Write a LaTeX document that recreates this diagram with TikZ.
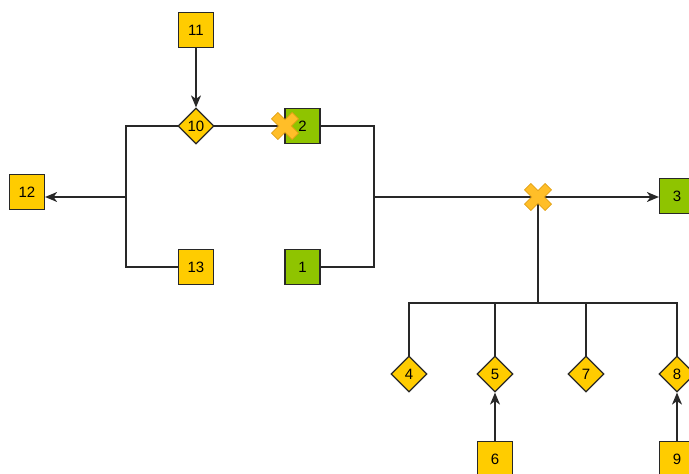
\documentclass[tikz,border=0pt]{standalone}
\usepackage{fontspec}
\setmainfont{Liberation Sans}
\usetikzlibrary{shapes.geometric,arrows.meta}
\definecolor{nodeyellow}{HTML}{FFCC00}
\definecolor{nodegreen}{RGB}{143,196,0}
\definecolor{edgegray}{RGB}{40,40,40}
\definecolor{crossfill}{RGB}{255,190,40}
\definecolor{crossline}{RGB}{225,160,20}
\tikzset{
  box/.style={draw=edgegray, line width=1.2pt, minimum size=35pt, inner sep=0pt,
              font=\fontsize{15}{15}\selectfont},
  ybox/.style={box, fill=nodeyellow},
  gbox/.style={box, fill=nodegreen},
  gate/.style={diamond, aspect=1, draw=edgegray, line width=1.2pt, fill=nodeyellow,
               minimum size=36pt, inner sep=0pt, font=\fontsize{15}{15}\selectfont},
  wire/.style={draw=edgegray, line width=1.2pt, line cap=rect},
  flow/.style={draw=edgegray, line width=1.2pt,
               -{Stealth[length=12pt,width=10pt,inset=3.5pt]}},
  % X-shaped marker centred on a coordinate
  cross/.pic={
    \fill[crossfill, draw=crossline, line width=0.6pt]
      (0,6.4) -- (7.1,13.5) -- (13.5,7.1) -- (6.4,0) -- (13.5,-7.1) -- (7.1,-13.5)
      -- (0,-6.4) -- (-7.1,-13.5) -- (-13.5,-7.1) -- (-6.4,0) -- (-13.5,7.1)
      -- (-7.1,13.5) -- cycle;
  }
}
\begin{document}
\begin{tikzpicture}[x=1pt,y=-1pt]
\useasboundingbox (0,0) rectangle (689,474);
\begin{scope}
\clip (0,0) rectangle (689,474);

% junction points
\coordinate (jl) at (126,197);
\coordinate (jr) at (374,197);
\coordinate (jx) at (538,197);
\coordinate (jb) at (538,303);

% nodes
\node[ybox] (n11) at (196,30) {11};
\node[gate] (n10) at (196,126) {10};
\node[gbox] (n2)  at (302.5,126) {2};
\node[ybox] (n13) at (196,267) {13};
\node[gbox] (n1)  at (302.5,267) {1};
\node[ybox] (n12) at (27,192) {12};
\node[gbox] (n3)  at (677,196) {3};
\node[gate] (n4)  at (409,374) {4};
\node[gate] (n5)  at (495,374) {5};
\node[gate] (n7)  at (586,374) {7};
\node[gate] (n8)  at (677,374) {8};
\node[ybox] (n6)  at (495,459) {6};
\node[ybox] (n9)  at (677,459) {9};

% connectors
\draw[flow] (n11) -- (n10);
\draw[wire] (n10.west) -| (jl) |- (n13.west);
\draw[flow] (jl) -- (n12.east |- jl);
\draw[wire] (n10.east) -- (n2.west);
\draw[wire] (n2.east) -| (jr) |- (n1.east);
\draw[flow] (jr) -- (n3.west |- jr);
\draw[wire] (jx) -- (jb);
\draw[wire] (n4.north) |- (jb);
\draw[wire] (n8.north) |- (jb);
\draw[wire] (n5.north) -- (n5.north |- jb);
\draw[wire] (n7.north) -- (n7.north |- jb);
\draw[flow] (n6) -- (n5);
\draw[flow] (n9) -- (n8);

% markers
\pic at (285,126) {cross};
\pic at (jx) {cross};
\end{scope}
\end{tikzpicture}
\end{document}
